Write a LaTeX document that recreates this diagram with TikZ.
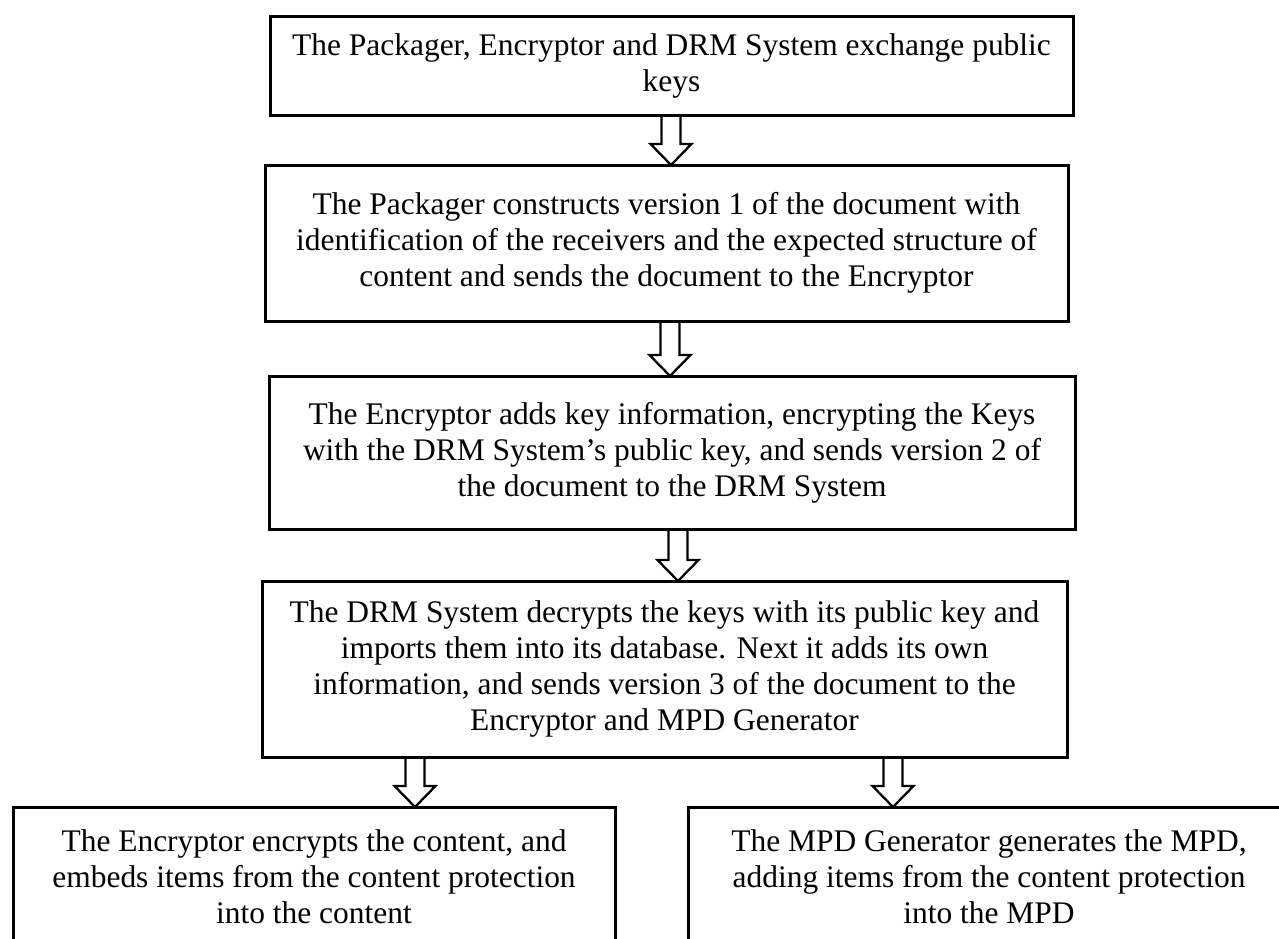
\documentclass[tikz,border=0pt]{standalone}
\usepackage{fontspec}
\setmainfont{Liberation Serif}
\usepackage{tikz}
\usetikzlibrary{positioning, calc}

% hollow block arrow from one box down to the next
\newcommand{\blockarrow}[3]{%
  \draw[hollowarrow] let \p1=($(#1.south)+(#3,0)$), \p2=(#2.north) in
    ({\x1-0.95mm},\y1) -- ({\x1-0.95mm},{\y2+2.1mm}) -- ({\x1-2.05mm},{\y2+2.1mm})
    -- (\x1,\y2) -- ({\x1+2.05mm},{\y2+2.1mm}) -- ({\x1+0.95mm},{\y2+2.1mm})
    -- ({\x1+0.95mm},\y1);%
}

\begin{document}
\begin{tikzpicture}[
  stepbox/.style={rectangle, draw=black, line width=0.3mm, outer sep=0pt, align=center, inner sep=1mm, font=\fontsize{8.95pt}{10.24pt}\selectfont},
  hollowarrow/.style={draw=black, line width=0.23mm, line join=miter}
]
  \useasboundingbox (0,0) rectangle (127.9mm,-93.8mm);

  \node[stepbox, minimum width=80.3mm, minimum height=9.9mm] (keys) at (67.15mm,-6.55mm) {The Packager, Encryptor and DRM System exchange public\\keys};
  \node[stepbox, minimum width=80.3mm, minimum height=15.6mm, below=5mm of keys, xshift=-0.5mm] (pack) {The Packager constructs version 1 of the document with\\identification of the receivers and the expected structure of\\content and sends the document to the Encryptor};
  \node[stepbox, minimum width=80.6mm, minimum height=15.3mm, below=5.5mm of pack, xshift=0.55mm] (encr) {The Encryptor adds key information, encrypting the Keys\\with the DRM System’s public key, and sends version 2 of\\the document to the DRM System};
  \node[stepbox, minimum width=80.5mm, minimum height=17.6mm, below=5.2mm of encr, xshift=-0.75mm] (drm) {The DRM System decrypts the keys with its public key and\\imports them into its database. Next it adds its own\\information, and sends version 3 of the document to the\\Encryptor and MPD Generator};

  \node[stepbox, minimum width=60.2mm, minimum height=14mm, below=5mm of drm, xshift=-35.05mm] (content) {The Encryptor encrypts the content, and\\embeds items from the content protection\\into the content};
  \node[stepbox, minimum width=60.2mm, minimum height=14mm, below=5mm of drm, xshift=32.45mm] (mpd) {The MPD Generator generates the MPD,\\adding items from the content protection\\into the MPD};

  \blockarrow{keys}{pack}{-0.05mm}
  \blockarrow{pack}{encr}{0.35mm}
  \blockarrow{encr}{drm}{0.6mm}
  \blockarrow{drm}{content}{-24.95mm}
  \blockarrow{drm}{mpd}{22.85mm}
\end{tikzpicture}
\end{document}
